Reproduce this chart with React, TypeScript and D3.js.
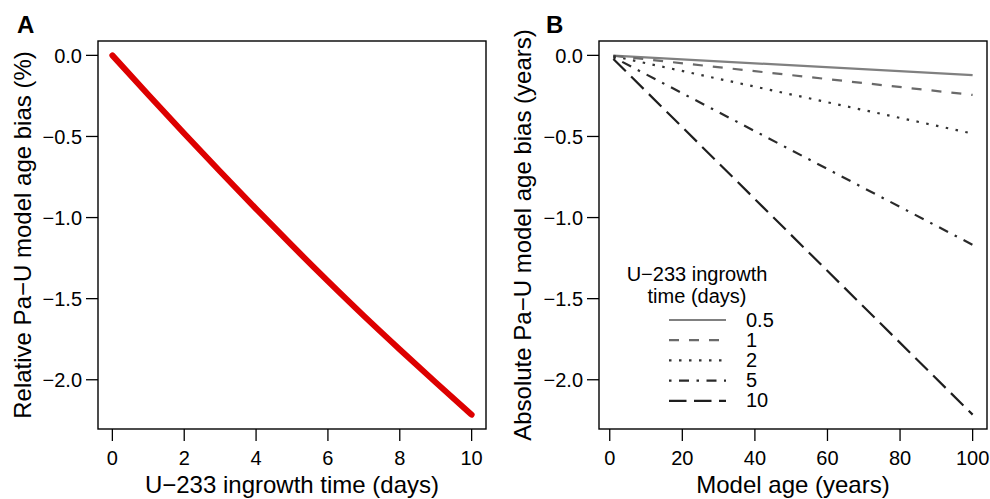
import React from "react";
import * as d3 from "d3";

// Panel A data
const ingrowthDays = [0, 1, 2, 3, 4, 5, 6, 7, 8, 9, 10];
const relativeBias = [0, -0.243, -0.482, -0.716, -0.946, -1.172, -1.392, -1.606, -1.813, -2.016, -2.215];

// Panel B data
const modelAges = [1, 100];
const seriesLabels = ["0.5", "1", "2", "5", "10"];
const bias05 = [-0.0012, -0.122];
const bias1 = [-0.0024, -0.244];
const bias2 = [-0.0048, -0.482];
const bias5 = [-0.0117, -1.168];
const bias10 = [-0.0222, -2.215];
const seriesValues = [bias05, bias1, bias2, bias5, bias10];

const yTicks = [0, -0.5, -1.0, -1.5, -2.0];
const xTicksA = [0, 2, 4, 6, 8, 10];
const xTicksB = [0, 20, 40, 60, 80, 100];

const MINUS = "\u2212";
const titleAx = `U${MINUS}233 ingrowth time (days)`;
const titleAy = `Relative Pa${MINUS}U model age bias (%)`;
const titleBx = "Model age (years)";
const titleBy = `Absolute Pa${MINUS}U model age bias (years)`;
const legendTitle1 = `U${MINUS}233 ingrowth`;
const legendTitle2 = "time (days)";

const seriesStyle = [
  { color: "#808080", dash: "" },
  { color: "#6a6a6a", dash: "10,10" },
  { color: "#333333", dash: "2.5,7.5" },
  { color: "#2a2a2a", dash: "2.5,7.5,10,7.5" },
  { color: "#1e1e1e", dash: "17.5,7.5" },
];

const FONT = "'Liberation Sans', Arial, Helvetica, sans-serif";

function rExtent(vals: number[]): [number, number] {
  const [a, b] = d3.extent(vals) as [number, number];
  const pad = (b - a) * 0.04;
  return [a - pad, b + pad];
}

const fmtY = (t: number) => (t === 0 ? "0.0" : MINUS + Math.abs(t).toFixed(1));

const top = 41;
const bottom = 429;

function Axes({ x, y, xTicks, left, right, xTitle, yTitle, yTitleX, label, labelX }: any) {
  return (
    <g>
      <rect x={left} y={top} width={right - left} height={bottom - top} fill="none" stroke="#000" strokeWidth={1.4} />
      {xTicks.map((t: number) => (
        <g key={"x" + t}>
          <line x1={x(t)} x2={x(t)} y1={bottom} y2={bottom + 12} stroke="#000" strokeWidth={1.3} />
          <text x={x(t)} y={465} textAnchor="middle" fontSize={20} fontFamily={FONT}>{t}</text>
        </g>
      ))}
      {yTicks.map((t) => (
        <g key={"y" + t}>
          <line x1={left - 12} x2={left} y1={y(t)} y2={y(t)} stroke="#000" strokeWidth={1.3} />
          <text x={left - 16} y={y(t) + 7.5} textAnchor="end" fontSize={20} fontFamily={FONT}>{fmtY(t)}</text>
        </g>
      ))}
      <text x={(left + right) / 2} y={493} textAnchor="middle" fontSize={24} fontFamily={FONT}>{xTitle}</text>
      <text transform={`translate(${yTitleX},${(top + bottom) / 2}) rotate(-90)`} textAnchor="middle" fontSize={24} fontFamily={FONT}>{yTitle}</text>
      <text x={labelX} y={33} fontSize={24} fontWeight="bold" fontFamily={FONT}>{label}</text>
    </g>
  );
}

export default function App() {
  const leftA = 98, rightA = 486;
  const leftB = 599, rightB = 987;

  const yDomain = rExtent([0, ...relativeBias, ...bias10]);
  const xA = d3.scaleLinear().domain(rExtent(ingrowthDays)).range([leftA, rightA]);
  const yA = d3.scaleLinear().domain(yDomain).range([bottom, top]);
  const xB = d3.scaleLinear().domain(rExtent(modelAges)).range([leftB, rightB]);
  const yB = d3.scaleLinear().domain(yDomain).range([bottom, top]);

  const lineA = d3
    .line<number>()
    .x((_, i) => xA(ingrowthDays[i]))
    .y((d) => yA(d))
    .curve(d3.curveMonotoneX);

  const lineB = d3
    .line<number>()
    .x((_, i) => xB(modelAges[i]))
    .y((d) => yB(d));

  const legendX1 = 669, legendX2 = 726, legendTextX = 746;
  const legendY0 = 320, legendStep = 20.2;

  return (
    <svg width={990} height={499} style={{ position: "absolute", left: 0, top: 0, background: "#fff" }}>
      <rect width={990} height={499} fill="#fff" />
      {/* Panel A */}
      <path d={lineA(relativeBias) || ""} fill="none" stroke="#dd0000" strokeWidth={6} strokeLinecap="round" strokeLinejoin="round" />
      <Axes x={xA} y={yA} xTicks={xTicksA} left={leftA} right={rightA}
        xTitle={titleAx} yTitle={titleAy}
        yTitleX={31} label="A" labelX={17} />

      {/* Panel B */}
      {seriesValues.map((vals, i) => (
        <path key={"s" + i} d={lineB(vals) || ""} fill="none" stroke={seriesStyle[i].color}
          strokeWidth={2.2} strokeDasharray={seriesStyle[i].dash || undefined} />
      ))}
      <Axes x={xB} y={yB} xTicks={xTicksB} left={leftB} right={rightB}
        xTitle={titleBx} yTitle={titleBy}
        yTitleX={531} label="B" labelX={546} />

      {/* Legend */}
      <text x={697} y={281} textAnchor="middle" fontSize={20} fontFamily={FONT}>{legendTitle1}</text>
      <text x={697} y={303} textAnchor="middle" fontSize={20} fontFamily={FONT}>{legendTitle2}</text>
      {seriesLabels.map((lab, i) => {
        const ly = legendY0 + i * legendStep;
        return (
          <g key={"l" + lab}>
            <line x1={legendX1} x2={legendX2} y1={ly} y2={ly} stroke={seriesStyle[i].color} strokeWidth={2.2}
              strokeDasharray={seriesStyle[i].dash || undefined} />
            <text x={legendTextX} y={ly + 6.5} fontSize={20} fontFamily={FONT}>{lab}</text>
          </g>
        );
      })}
    </svg>
  );
}
